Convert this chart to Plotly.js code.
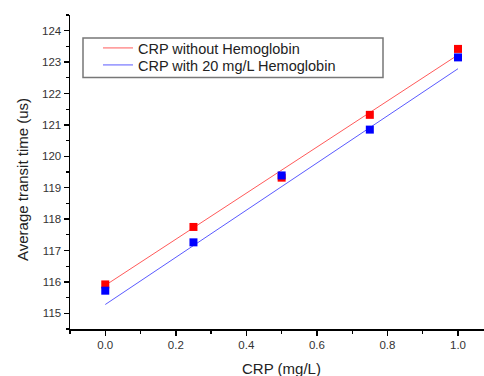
<!DOCTYPE html>
<html><head><meta charset="utf-8">
<script src="https://cdn.plot.ly/plotly-3.0.1.min.js"></script>
<style>html,body{margin:0;padding:0;background:#fff;}#chart{width:484px;height:376px;}</style>
</head><body><div id="chart"></div>
<script>
const crp = [0, 0.25, 0.5, 0.75, 1.0];
const timeNoHb = [115.92, 117.75, 119.32, 121.32, 123.42];
const timeHb = [115.72, 117.26, 119.39, 120.85, 123.15];
const fitX = [0, 1.0];
const fitNoHb = [115.89, 123.23];
const fitHb = [115.28, 122.79];
const seriesNames = ["CRP without Hemoglobin", "CRP with 20 mg/L Hemoglobin"];

const traces = [
  {x: fitX, y: fitNoHb, mode: 'lines', name: seriesNames[0], legend: 'legend', line: {color: '#ff5a5a', width: 1}},
  {x: fitX, y: fitHb, mode: 'lines', name: seriesNames[1], legend: 'legend2', line: {color: '#5a5aff', width: 1}},
  {x: crp, y: timeNoHb, mode: 'markers', showlegend: false, marker: {symbol: 'square', size: 8, color: '#ff0000'}},
  {x: crp, y: timeHb, mode: 'markers', showlegend: false, marker: {symbol: 'square', size: 8, color: '#0000ff'}}
];

const font = {family: 'Liberation Sans, Arial, sans-serif', color: '#222'};
const legendBase = {
  xanchor: 'left', yanchor: 'middle',
  bgcolor: 'rgba(0,0,0,0)', borderwidth: 0,
  font: {size: 14.5, color: '#222'}, itemwidth: 30
};
const xRange = [-0.1, 1.0737];
const layout = {
  width: 484, height: 376,
  margin: {l: 70, r: 0, t: 15, b: 47},
  paper_bgcolor: '#fff', plot_bgcolor: '#fff',
  font: font,
  showlegend: true,
  xaxis: {
    range: xRange, dtick: 0.2, tick0: 0, tickformat: '.1f',
    showgrid: false, zeroline: false,
    showline: true, linecolor: '#000', linewidth: 1.5, mirror: false,
    ticks: 'outside', ticklen: 5, tickwidth: 1.5, tickcolor: '#000',
    minor: {dtick: 0.1, ticklen: 3, tickwidth: 1.2, tickcolor: '#000', ticks: 'outside'},
    tickfont: {size: 11.5, color: '#333'}
  },
  xaxis2: {
    overlaying: 'x', side: 'top', range: xRange, dtick: 0.2, tick0: 0,
    showgrid: false, zeroline: false, showticklabels: false,
    showline: true, linecolor: '#000', linewidth: 1.5,
    ticks: 'inside', ticklen: 5, tickwidth: 1.5, tickcolor: '#000',
    minor: {dtick: 0.1, ticklen: 3, tickwidth: 1.2, tickcolor: '#000', ticks: 'inside'}
  },
  yaxis: {
    range: [114.5, 124.5], dtick: 1,
    showgrid: false, zeroline: false,
    showline: true, linecolor: '#000', linewidth: 1.5, mirror: false,
    ticks: 'outside', ticklen: 5, tickwidth: 1.5, tickcolor: '#000',
    minor: {dtick: 0.5, ticklen: 3, tickwidth: 1.2, tickcolor: '#000', ticks: 'outside'},
    tickfont: {size: 11.5, color: '#333'}
  },
  legend: Object.assign({}, legendBase, {x: 0.0676, y: 1-(48-15)/314}),
  legend2: Object.assign({}, legendBase, {x: 0.0676, y: 1-(65-15)/314}),
  shapes: [
    {type: 'rect', xref: 'paper', yref: 'paper',
     x0: (83-70)/414, x1: (383-70)/414, y0: 1-(77.5-15)/314, y1: 1-(38-15)/314,
     line: {color: '#777', width: 1.5}, fillcolor: 'rgba(0,0,0,0)'}
  ],
  annotations: [
    {text: 'CRP (mg/L)', xref: 'paper', yref: 'paper', x: (281-70)/414, y: 1-(368-15)/314,
     showarrow: false, xanchor: 'center', yanchor: 'middle', font: {size: 15, color: '#222'}},
    {text: 'Average transit time (us)', xref: 'paper', yref: 'paper', x: (22-70)/414, y: 1-(180-15)/314,
     showarrow: false, xanchor: 'center', yanchor: 'middle', textangle: -90, font: {size: 15, color: '#222'}}
  ]
};
Plotly.newPlot('chart', traces, layout, {displayModeBar: false, staticPlot: true});
</script>
</body></html>
